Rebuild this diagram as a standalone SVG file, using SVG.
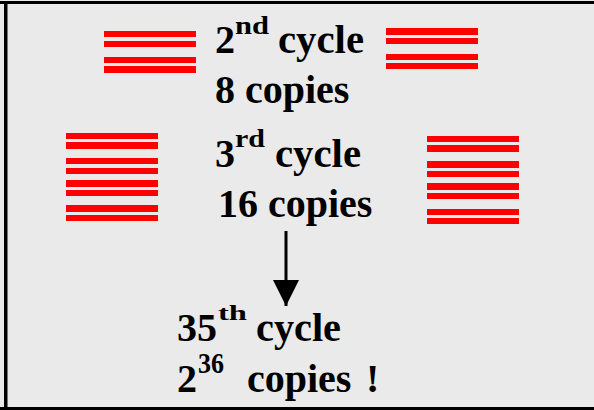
<svg xmlns="http://www.w3.org/2000/svg" width="594" height="410" viewBox="0 0 594 410">
<style>
.t{font-family:"Liberation Serif","Times New Roman",serif;font-weight:bold;font-size:40px;fill:#000}
.s{font-family:"Liberation Serif","Times New Roman",serif;font-weight:bold;font-size:26px;fill:#000}
.bar{fill:#FF0000}
.conn{stroke:#000;stroke-width:3;fill:none}
</style>
<defs>
<marker id="ah" markerUnits="userSpaceOnUse" markerWidth="26" markerHeight="26" refX="26" refY="13" orient="auto" viewBox="0 0 26 26">
<path d="M0,0 L26,13 L0,26 Z" fill="#000"/>
</marker>
</defs>
<rect x="0" y="0" width="594" height="410" fill="#EAEAEA"/>
<rect x="0" y="1" width="594" height="3" fill="#000"/>
<rect x="4" y="1" width="3.5" height="409" fill="#000"/>
<rect x="0" y="407" width="594" height="3" fill="#000"/>

<g id="bars-2nd-left">
<rect class="bar" x="104" y="31" width="92" height="6"/>
<rect class="bar" x="104" y="41" width="92" height="6"/>
<rect class="bar" x="104" y="57" width="92" height="6"/>
<rect class="bar" x="104" y="66" width="92" height="7"/>
</g>
<g id="bars-2nd-right">
<rect class="bar" x="386" y="28" width="92" height="7"/>
<rect class="bar" x="386" y="38" width="92" height="6"/>
<rect class="bar" x="386" y="54" width="92" height="6"/>
<rect class="bar" x="386" y="63" width="92" height="6"/>
</g>
<g id="bars-3rd-left">
<rect class="bar" x="66" y="133" width="92" height="6"/>
<rect class="bar" x="66" y="142" width="92" height="7"/>
<rect class="bar" x="66" y="158" width="92" height="6"/>
<rect class="bar" x="66" y="168" width="92" height="6"/>
<rect class="bar" x="66" y="180" width="92" height="7"/>
<rect class="bar" x="66" y="190" width="92" height="6"/>
<rect class="bar" x="66" y="205" width="92" height="7"/>
<rect class="bar" x="66" y="215" width="92" height="6"/>
</g>
<g id="bars-3rd-right">
<rect class="bar" x="427" y="136" width="92" height="6"/>
<rect class="bar" x="427" y="145" width="92" height="7"/>
<rect class="bar" x="427" y="161" width="92" height="7"/>
<rect class="bar" x="427" y="171" width="92" height="6"/>
<rect class="bar" x="427" y="183" width="92" height="7"/>
<rect class="bar" x="427" y="193" width="92" height="6"/>
<rect class="bar" x="427" y="209" width="92" height="6"/>
<rect class="bar" x="427" y="218" width="92" height="6"/>
</g>

<g id="label-2nd">
<text class="t" x="215" y="53">2</text>
<text class="s" x="235" y="34" textLength="34" lengthAdjust="spacingAndGlyphs">nd</text>
<text class="t" x="278" y="53" textLength="86" lengthAdjust="spacingAndGlyphs">cycle</text>
<text class="t" x="215" y="103">8 copies</text>
</g>
<g id="label-3rd">
<text class="t" x="215" y="167">3</text>
<text class="s" x="235" y="147" textLength="30" lengthAdjust="spacingAndGlyphs">rd</text>
<text class="t" x="275" y="167" textLength="86" lengthAdjust="spacingAndGlyphs">cycle</text>
<text class="t" x="218" y="217">16 copies</text>
</g>
<g id="label-35th">
<text class="t" x="177" y="341">35</text>
<text class="s" x="218" y="320" style="font-size:22px" textLength="29" lengthAdjust="spacingAndGlyphs">th</text>
<text class="t" x="256" y="341" textLength="85" lengthAdjust="spacingAndGlyphs">cycle</text>
<text class="t" x="177" y="392">2</text>
<text class="s" x="198" y="373" style="font-size:30px" textLength="26" lengthAdjust="spacingAndGlyphs">36</text>
<text class="t" x="247" y="392">copies</text>
<text class="t" x="366" y="392">!</text>
</g>

<g id="connectors">
<line class="conn" x1="286" y1="231" x2="286" y2="306" marker-end="url(#ah)"/>
</g>
</svg>
